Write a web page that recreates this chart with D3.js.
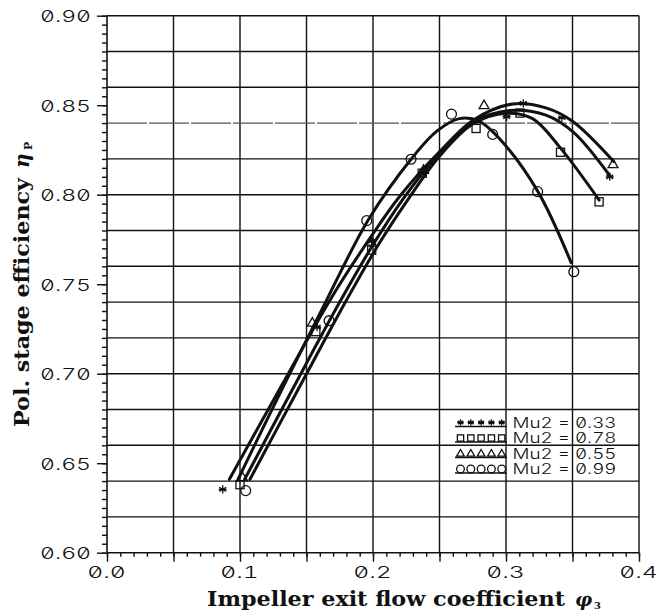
<!DOCTYPE html>
<html>
<head>
<meta charset="utf-8">
<script src="https://cdn.jsdelivr.net/npm/d3@7"></script>
<style>
  html, body { margin: 0; padding: 0; background: #fff; }
  svg { display: block; }
  .num { font-family: "Inter", "DejaVu Sans Mono", monospace; font-weight: 300;
         font-feature-settings: "zero" 1, "tnum" 1; fill: #111; }
  .title { font-family: "DejaVu Serif", "Liberation Serif", serif; font-weight: bold; fill: #111; }
</style>
</head>
<body>
<svg id="chart" width="670" height="611"></svg>
<script>
// Axis ticks and grid
const xTicks = [0.0, 0.1, 0.2, 0.3, 0.4];
const yTicks = [0.60, 0.65, 0.70, 0.75, 0.80, 0.85, 0.90];
const xGrid = [0.05, 0.10, 0.15, 0.20, 0.25, 0.30, 0.35, 0.40];
const yGrid = [0.62, 0.64, 0.66, 0.68, 0.70, 0.72, 0.74, 0.76, 0.78, 0.80, 0.82, 0.84, 0.86, 0.88, 0.90];

// Mach numbers of the four test runs
const mu2Labels = ["0.33", "0.78", "0.55", "0.99"];
const symbols = ["asterisk", "square", "triangle", "circle"];

// Measured points [flow coefficient, polytropic efficiency]
const pts033 = [[0.087,0.6354],[0.158,0.726],[0.199,0.774],[0.238,0.813],[0.3005,0.8436],[0.313,0.851],[0.342,0.843],[0.378,0.810]];
const pts078 = [[0.100,0.638],[0.157,0.7235],[0.199,0.769],[0.237,0.812],[0.2775,0.837],[0.3105,0.8456],[0.341,0.8237],[0.370,0.796]];
const pts055 = [[0.102,0.642],[0.1544,0.7285],[0.1985,0.7737],[0.238,0.8138],[0.2835,0.850],[0.3805,0.817]];
const pts099 = [[0.1043,0.6347],[0.167,0.7296],[0.1953,0.7855],[0.2286,0.8198],[0.259,0.845],[0.290,0.8337],[0.3238,0.8017],[0.351,0.757]];

// Fitted characteristic curves
const fit033 = [[0.092,0.641],[0.131,0.693],[0.170,0.744],[0.198,0.776],[0.22,0.799],[0.25,0.824],[0.275,0.8405],[0.303,0.847],[0.33,0.8445],[0.3506,0.835],[0.3777,0.811]];
const fit078 = [[0.1075,0.641],[0.145,0.693],[0.180,0.741],[0.204,0.772],[0.226,0.797],[0.25,0.8215],[0.275,0.8395],[0.300,0.8455],[0.32,0.8425],[0.341,0.826],[0.370,0.797]];
const fit055 = [[0.1035,0.641],[0.14,0.692],[0.175,0.740],[0.2,0.772],[0.222,0.797],[0.25,0.8235],[0.275,0.8415],[0.305,0.8507],[0.33,0.8485],[0.35,0.841],[0.381,0.8185]];
const fit099 = [[0.0985,0.641],[0.132,0.692],[0.165,0.741],[0.1965,0.786],[0.2286,0.8198],[0.248,0.8355],[0.265,0.8425],[0.28,0.841],[0.2955,0.831],[0.3238,0.802],[0.349,0.762]];

const pointSets = [pts033, pts078, pts055, pts099];
const fitSets = [fit033, fit078, fit055, fit099];

const svg = d3.select("#chart");
const x = d3.scaleLinear().domain([0, 0.4]).range([107, 639]);
const y = d3.scaleLinear().domain([0.6, 0.9]).range([552.7, 15.7]);
const ink = "#111";

// grid
const grid = svg.append("g");
grid.selectAll("line.v").data(xGrid).join("line")
  .attr("x1", d => x(d)).attr("x2", d => x(d))
  .attr("y1", y(0.9)).attr("y2", y(0.6))
  .attr("stroke", ink).attr("stroke-width", 1.4);
grid.selectAll("line.h").data(yGrid).join("line")
  .attr("x1", x(0)).attr("x2", x(0.4))
  .attr("y1", d => y(d)).attr("y2", d => y(d))
  .attr("stroke", d => Math.abs(d - 0.84) < 1e-6 ? "#555" : ink)
  .attr("stroke-width", d => Math.abs(d - 0.84) < 1e-6 ? 1.1 : 1.4)
  .attr("stroke-dasharray", d => Math.abs(d - 0.84) < 1e-6 ? "40 2" : null);

// axes
const xMinor = d3.range(0, 41).map(i => i / 100);
const yMinor = d3.range(0, 61).map(i => 0.6 + i * 0.005);
const xMajor = d3.range(0, 9).map(i => i * 0.05);

const gx = svg.append("g").attr("transform", `translate(0,${y(0.6)})`);
gx.call(d3.axisBottom(x).tickValues(xMinor).tickSize(4).tickFormat(""));
gx.append("g").call(d3.axisBottom(x).tickValues(xMajor).tickSize(9).tickFormat(""));
gx.selectAll("path.domain").remove();
gx.selectAll("line").attr("stroke", ink).attr("stroke-width", 1.4);

const gy = svg.append("g").attr("transform", `translate(${x(0)},0)`);
gy.call(d3.axisLeft(y).tickValues(yMinor).tickSize(5).tickFormat(""));
gy.append("g").call(d3.axisLeft(y).tickValues(yTicks).tickSize(10).tickFormat(""));
gy.selectAll("path.domain").remove();
gy.selectAll("line").attr("stroke", ink).attr("stroke-width", 1.4);

// axis frame
svg.append("line").attr("x1", x(0)).attr("x2", x(0.4)).attr("y1", y(0.6)).attr("y2", y(0.6))
  .attr("stroke", ink).attr("stroke-width", 1.6);
svg.append("line").attr("x1", x(0)).attr("x2", x(0)).attr("y1", y(0.9)).attr("y2", y(0.6))
  .attr("stroke", ink).attr("stroke-width", 1.6);

// tick labels
svg.append("g").selectAll("text").data(yTicks).join("text")
  .attr("class", "num").attr("font-size", 16)
  .attr("x", 91).attr("y", d => y(d) + 6.5)
  .attr("text-anchor", "end")
  .attr("textLength", 51).attr("lengthAdjust", "spacingAndGlyphs")
  .text(d => d3.format(".2f")(d));
svg.append("g").selectAll("text").data(xTicks).join("text")
  .attr("class", "num").attr("font-size", 16)
  .attr("x", d => x(d) - 0.5).attr("y", 577.5)
  .attr("text-anchor", "middle")
  .attr("textLength", 38.5).attr("lengthAdjust", "spacingAndGlyphs")
  .text(d => d3.format(".1f")(d));

// axis titles
const xt = svg.append("text").attr("class", "title").attr("font-size", 21)
  .attr("x", 207).attr("y", 606);
xt.append("tspan").attr("textLength", 358).attr("lengthAdjust", "spacingAndGlyphs")
  .text("Impeller exit flow coefficient");
svg.append("text").attr("class", "title").attr("font-size", 19).attr("font-style", "italic")
  .attr("x", 575).attr("y", 606).text("φ");
svg.append("text").attr("class", "title").attr("font-size", 10)
  .attr("x", 594).attr("y", 609).text("3");

const yt = svg.append("g").attr("transform", "translate(28.5,427) rotate(-90)");
yt.append("text").attr("class", "title").attr("font-size", 21)
  .attr("x", 0).attr("y", 0)
  .attr("textLength", 249).attr("lengthAdjust", "spacingAndGlyphs")
  .text("Pol. stage efficiency");
yt.append("text").attr("class", "title").attr("font-size", 20).attr("font-style", "italic")
  .attr("x", 259).attr("y", 0).text("η");
yt.append("text").attr("class", "title").attr("font-size", 11)
  .attr("x", 277).attr("y", 3).text("P");

// symbols
function drawSymbol(g, type, cx, cy, s) {
  const st = { stroke: ink, "stroke-width": 1.3, fill: "none" };
  let el;
  if (type === "circle") {
    el = g.append("circle").attr("cx", cx).attr("cy", cy).attr("r", s * 0.55);
  } else if (type === "square") {
    el = g.append("rect").attr("x", cx - s * 0.45).attr("y", cy - s * 0.45)
      .attr("width", s * 0.9).attr("height", s * 0.9);
  } else if (type === "triangle") {
    const h = s * 0.95;
    el = g.append("path").attr("d",
      `M${cx},${cy - h * 0.6}L${cx + s * 0.55},${cy + h * 0.4}L${cx - s * 0.55},${cy + h * 0.4}Z`);
  } else {
    const r = s * 0.45;
    const d = [0, 60, 120].map(a => {
      const t = (a + 90) * Math.PI / 180;
      return `M${cx - r * Math.cos(t)},${cy - r * Math.sin(t)}L${cx + r * Math.cos(t)},${cy + r * Math.sin(t)}`;
    }).join("") + `M${cx - r},${cy}L${cx + r},${cy}`;
    el = g.append("path").attr("d", d);
  }
  Object.entries(st).forEach(([k, v]) => el.attr(k, v));
}

// fitted curves
const line = d3.line().x(d => x(d[0])).y(d => y(d[1])).curve(d3.curveCatmullRom.alpha(0.5));
svg.append("g").selectAll("path").data(fitSets).join("path")
  .attr("d", line).attr("fill", "none").attr("stroke", ink)
  .attr("stroke-width", 3).attr("stroke-linecap", "round");

// measured points
const marks = svg.append("g");
pointSets.forEach((pts, i) => {
  pts.forEach(p => drawSymbol(marks, symbols[i], x(p[0]), y(p[1]), 9));
});

// legend
const lg = svg.append("g");
mu2Labels.forEach((lab, i) => {
  const cy = 422.5 + i * 15.5;
  for (let k = 0; k < 5; k++) drawSymbol(lg, symbols[i], 460.5 + k * 10.3, cy, 7);
  lg.append("line").attr("x1", 455).attr("x2", 507).attr("y1", cy + 4).attr("y2", cy + 4)
    .attr("stroke", ink).attr("stroke-width", 1.6);
  lg.append("text").attr("class", "num").attr("font-size", 14)
    .attr("x", 512.5).attr("y", cy + 5)
    .attr("textLength", 104).attr("lengthAdjust", "spacingAndGlyphs")
    .text("Mu2 = " + lab);
});
</script>
</body>
</html>
